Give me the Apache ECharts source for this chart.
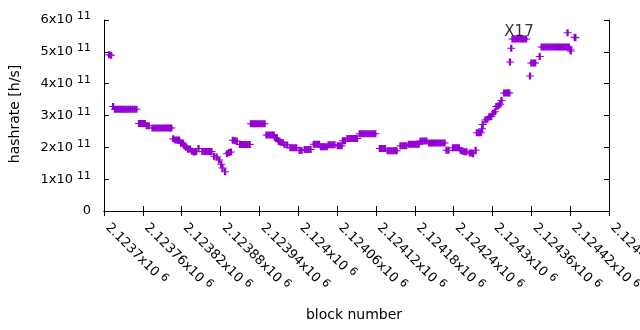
<!DOCTYPE html>
<html><head><meta charset="utf-8">
<script src="https://cdn.jsdelivr.net/npm/echarts@6/dist/echarts.min.js"></script>
<style>html,body{margin:0;padding:0;background:#fff}#c{width:640px;height:330px}</style>
</head><body><div id="c"></div>
<script>
const blocks = [
2123708,2123711,2123714,
2123717,2123720,2123723,2123726,2123729,2123732,2123735,2123738,2123741,2123744,2123747,2123750,
2123754,2123757,2123760,2123763,2123766,2123769,
2123775,2123778,2123781,2123784,2123787,2123790,2123793,2123796,2123799,2123802,2123804,
2123807,2123810,2123813,2123816,
2123819,2123822,
2123824,2123827,2123830,2123833,2123836,2123839,2123842,
2123846,
2123852,2123855,2123858,2123861,2123864,2123866,
2123870,2123874,2123878,2123881,2123883,2123887,
2123890,2123893,2123896,
2123899,2123902,2123905,
2123910,2123913,2123916,2123919,2123922,2123925,
2123927,2123930,2123933,2123936,2123939,2123942,2123945,2123948,
2123951,2123954,2123957,2123960,2123962,
2123964,2123967,
2123970,2123973,2123976,
2123979,2123983,
2123988,2123991,2123994,2123997,
2124002,2124005,
2124010,2124013,2124016,2124019,
2124024,2124027,2124030,2124032,
2124035,2124038,2124041,2124044,
2124047,2124050,2124053,2124056,
2124061,2124064,2124067,
2124069,2124072,
2124076,2124079,2124082,2124085,2124088,2124091,
2124095,2124098,2124101,2124104,2124107,2124110,2124113,2124116,2124119,
2124126,2124129,2124132,2124134,
2124138,2124141,2124144,2124147,2124150,2124152,
2124158,2124161,2124164,2124167,
2124171,2124174,2124177,2124180,2124183,2124186,
2124189,2124192,2124195,2124198,
2124202,2124205,2124208,2124211,2124214,2124217,2124220,2124223,2124226,
2124229,2124232,
2124239,2124242,2124245,2124248,
2124251,2124254,
2124257,2124260,
2124265,2124268,2124270,
2124274,
2124276,2124279,2124282,
2124284,2124285,
2124289,2124292,
2124295,2124298,
2124301,2124304,
2124306,2124309,2124312,
2124314,
2124318,2124321,2124324,2124326,
2124327,
2124329,
2124331,2124334,2124337,2124340,2124343,2124346,2124349,2124352,
2124358,
2124360,2124363,2124366,
2124373,
2124376,2124379,2124382,2124385,2124388,2124391,2124394,2124397,2124400,2124403,2124406,2124409,2124412,2124415,2124418,
2124416,
2124420,2124421,
2124427,2124428
];
const hashrate = [
4.91e11,4.89e11,3.28e11,
3.2e11,3.2e11,3.2e11,3.2e11,3.2e11,3.2e11,3.2e11,3.2e11,3.2e11,3.2e11,3.2e11,3.2e11,
2.75e11,2.75e11,2.75e11,2.75e11,2.68e11,2.68e11,
2.61e11,2.61e11,2.61e11,2.61e11,2.61e11,2.61e11,2.61e11,2.61e11,2.61e11,2.61e11,2.61e11,
2.27e11,2.23e11,2.23e11,2.23e11,
2.13e11,2.13e11,
2.06e11,2.0e11,1.94e11,1.95e11,1.88e11,1.85e11,1.86e11,
1.96e11,
1.87e11,1.87e11,1.87e11,1.87e11,1.87e11,1.87e11,
1.72e11,1.7e11,1.6e11,1.47e11,1.35e11,1.23e11,
1.8e11,1.84e11,1.85e11,
2.22e11,2.21e11,2.2e11,
2.09e11,2.09e11,2.09e11,2.09e11,2.09e11,2.09e11,
2.74e11,2.74e11,2.74e11,2.74e11,2.74e11,2.74e11,2.74e11,2.74e11,
2.39e11,2.39e11,2.39e11,2.39e11,2.39e11,
2.31e11,2.29e11,
2.18e11,2.16e11,2.15e11,
2.08e11,2.07e11,
1.99e11,1.99e11,1.99e11,1.99e11,
1.91e11,1.9e11,
1.93e11,1.93e11,1.93e11,1.93e11,
2.1e11,2.1e11,2.1e11,2.1e11,
2.02e11,2.02e11,2.02e11,2.02e11,
2.08e11,2.08e11,2.08e11,2.08e11,
2.05e11,2.05e11,2.05e11,
2.21e11,2.21e11,
2.28e11,2.28e11,2.28e11,2.28e11,2.28e11,2.28e11,
2.43e11,2.43e11,2.43e11,2.43e11,2.43e11,2.43e11,2.43e11,2.43e11,2.43e11,
1.96e11,1.96e11,1.96e11,1.96e11,
1.89e11,1.89e11,1.89e11,1.89e11,1.89e11,1.89e11,
2.05e11,2.05e11,2.05e11,2.05e11,
2.1e11,2.1e11,2.1e11,2.1e11,2.1e11,2.1e11,
2.2e11,2.2e11,2.2e11,2.2e11,
2.14e11,2.14e11,2.14e11,2.14e11,2.14e11,2.14e11,2.14e11,2.14e11,2.14e11,
1.91e11,1.91e11,
1.99e11,1.99e11,1.99e11,1.99e11,
1.9e11,1.88e11,
1.86e11,1.86e11,
1.82e11,1.82e11,1.8e11,
1.91e11,
2.46e11,2.46e11,2.46e11,
2.58e11,2.72e11,
2.86e11,2.88e11,
2.95e11,2.97e11,
3.07e11,3.12e11,
3.28e11,3.31e11,3.35e11,
3.47e11,
3.71e11,3.71e11,3.71e11,3.71e11,
4.68e11,
5.11e11,
5.4e11,5.4e11,5.4e11,5.4e11,5.4e11,5.4e11,5.4e11,5.4e11,
4.24e11,
4.65e11,4.65e11,4.65e11,
4.85e11,
5.15e11,5.15e11,5.15e11,5.15e11,5.15e11,5.15e11,5.15e11,5.15e11,5.15e11,5.15e11,5.15e11,5.15e11,5.15e11,5.15e11,5.15e11,
5.6e11,
5.08e11,5.03e11,
5.46e11,5.44e11
];
const xAxisRange = { min: 2123700, max: 2124480, step: 60 };
const yAxisRange = { min: 0, max: 6e11, step: 1e11 };
const xTitle = 'block number';
const yTitle = 'hashrate [h/s]';
const noteText = 'X17';
const notePosition = [2124341, 5.62e11];

const FONT = '"DejaVu Sans", "Liberation Sans", sans-serif';
const COLOR = '#9400d3';
const points = [];
for (let i = 0; i < Math.min(blocks.length, hashrate.length); i++) points.push([blocks[i], hashrate[i]]);

function fmtX(v) {
  const m = parseFloat((v / 1e6).toFixed(6));
  return '{a|' + m + 'x10}{s|6}';
}
function fmtY(v) {
  if (v === 0) return '{a|0}';
  return '{a|' + Math.round(v / 1e11) + 'x10}{s|11}';
}
const rich = {
  a: { fontSize: 13, lineHeight: 18, fontFamily: FONT, color: '#000' },
  s: { fontSize: 11, lineHeight: 12, fontFamily: FONT, color: '#000', verticalAlign: 'top', padding: [0, 0, 0, 4] }
};
const tickStyle = { show: true, inside: true, length: 5, lineStyle: { color: '#000', width: 1 } };
const lineStyle = { show: true, lineStyle: { color: '#000', width: 1 } };

const chart = echarts.init(document.getElementById('c'), null, { renderer: 'canvas' });
chart.setOption({
  animation: false,
  backgroundColor: '#fff',
  grid: { left: 104, right: 31, top: 20, bottom: 119, containLabel: false, outerBoundsMode: 'none' },
  xAxis: [
    { type: 'value', min: xAxisRange.min, max: xAxisRange.max, interval: xAxisRange.step, position: 'bottom',
      axisLine: lineStyle, axisTick: tickStyle, splitLine: { show: false },
      axisLabel: { show: true, rotate: -45, margin: 11, padding: [0, 0, 0, 5], formatter: fmtX, rich: rich,
        showMinLabel: true, showMaxLabel: true, hideOverlap: false } },
    { type: 'value', min: xAxisRange.min, max: xAxisRange.max, interval: xAxisRange.step, position: 'top',
      axisLine: lineStyle, axisTick: tickStyle, splitLine: { show: false }, axisLabel: { show: false } }
  ],
  yAxis: [
    { type: 'value', min: yAxisRange.min, max: yAxisRange.max, interval: yAxisRange.step, position: 'left',
      axisLine: lineStyle, axisTick: tickStyle, splitLine: { show: false },
      axisLabel: { show: true, margin: 13, formatter: fmtY, rich: rich, showMinLabel: true, showMaxLabel: true } },
    { type: 'value', min: yAxisRange.min, max: yAxisRange.max, interval: yAxisRange.step, position: 'right',
      axisLine: lineStyle, axisTick: tickStyle, splitLine: { show: false }, axisLabel: { show: false } }
  ],
  series: [
    { type: 'scatter', data: points, xAxisIndex: 0, yAxisIndex: 0,
      symbol: 'path://M0,3H7V4H0Z M2.5,0H4.5V7H2.5Z', symbolSize: [8, 7],
      itemStyle: { color: COLOR, opacity: 1 }, emphasis: { disabled: true }, silent: true },
    { type: 'scatter', data: [notePosition], symbolSize: 1, itemStyle: { color: 'rgba(0,0,0,0)' }, silent: true,
      label: { show: true, position: 'inside', formatter: noteText, fontSize: 15, fontFamily: FONT, color: '#000' } }
  ],
  graphic: [
    { type: 'text', x: 15, y: 114, rotation: Math.PI / 2,
      style: { text: yTitle, fontSize: 14, fontFamily: FONT, fill: '#000', align: 'center', verticalAlign: 'middle' } },
    { type: 'text', x: 354, y: 315,
      style: { text: xTitle, fontSize: 14, fontFamily: FONT, fill: '#000', align: 'center', verticalAlign: 'middle' } }
  ]
});
</script></body></html>
